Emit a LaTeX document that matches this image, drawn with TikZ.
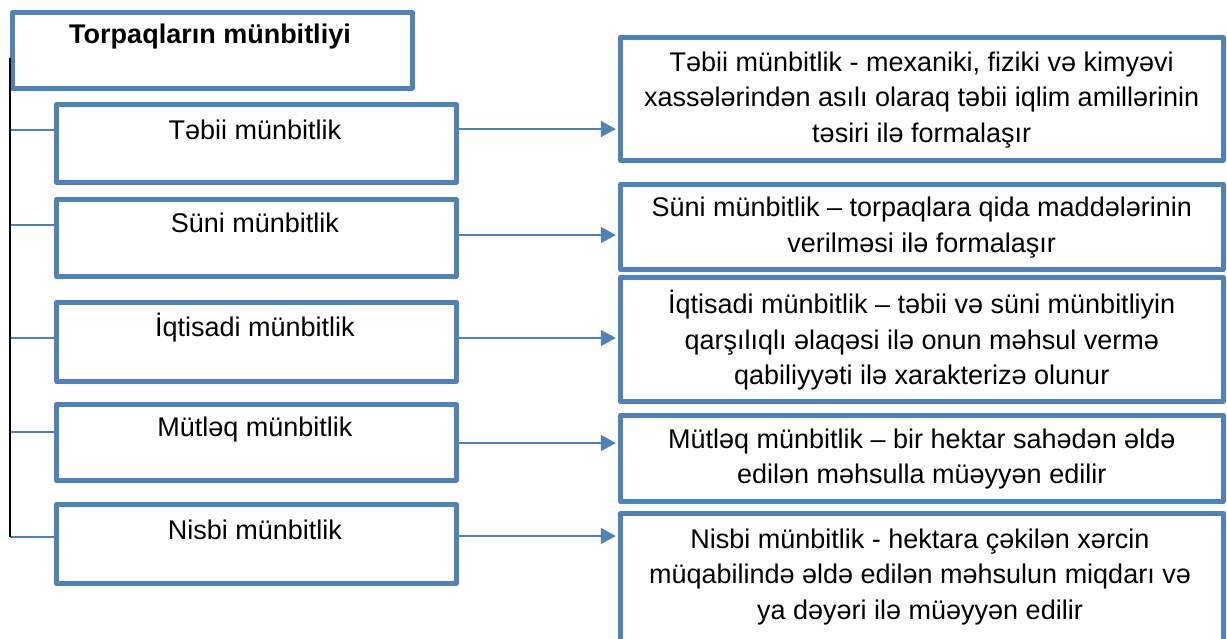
\documentclass[tikz,border=0pt]{standalone}
\usepackage{fontspec}
\setmainfont{Liberation Sans}
\usetikzlibrary{arrows.meta,calc}
\definecolor{boxblue}{HTML}{4F81BD}
\tikzset{
  box/.style={draw=boxblue, line width=4.5pt, line join=round, rectangle, inner sep=0pt, anchor=north west},
  lbl/.style={font=\fontsize{27}{35.5}\selectfont, inner sep=0pt, align=center, text=black},
  conn/.style={draw=boxblue, line width=1.6pt},
  spine/.style={draw=black, line width=2pt},
  arr/.style={draw=boxblue, line width=1.8pt, -{Triangle[length=15pt,width=16pt]}, shorten >=2.2pt}
}
\begin{document}
\begin{tikzpicture}[x=1pt,y=-1pt]
\path[use as bounding box, fill=white] (0,0) rectangle (1227,638);
\clip (0,0) rectangle (1227,638);
% title box
\node[box, minimum width=400pt, minimum height=76pt] (top) at (10,10) {};
\node[lbl, font=\fontsize{27}{35}\selectfont\bfseries] (toptxt) at (210,37) {Torpaqların münbitliyi};
% left boxes
\node[box, minimum width=400pt, minimum height=78pt] (b1) at (54,102) {};
\node[box, minimum width=400pt, minimum height=77pt] (b2) at (54,197) {};
\node[box, minimum width=400pt, minimum height=79pt] (b3) at (54,300) {};
\node[box, minimum width=400pt, minimum height=76pt] (b4) at (54,402) {};
\node[box, minimum width=400pt, minimum height=79pt] (b5) at (54,502) {};
\node[lbl] (t1) at (255,130) {Təbii münbitlik};
\node[lbl] (t2) at (255,223) {Süni münbitlik};
\node[lbl] (t3) at (255,328) {İqtisadi münbitlik};
\node[lbl] (t4) at (255,430) {Mütləq münbitlik};
\node[lbl] (t5) at (255,530) {Nisbi münbitlik};
% right boxes
\node[box, minimum width=603pt, minimum height=123pt] (r1) at (618,35) {};
\node[box, minimum width=603pt, minimum height=85pt] (r2) at (618,182) {};
\node[box, minimum width=603pt, minimum height=124pt] (r3) at (618,275) {};
\node[box, minimum width=603pt, minimum height=86pt] (r4) at (618,413) {};
\node[box, minimum width=603pt, minimum height=137pt] (r5) at (618,511) {};
\node[lbl] (d1) at ($(r1.center)+(0,1)$) {Təbii münbitlik - mexaniki, fiziki və kimyəvi\\xassələrindən asılı olaraq təbii iqlim amillərinin\\təsiri ilə formalaşır};
\node[lbl] (d2) at ($(r2.center)+(0,1)$) {Süni münbitlik – torpaqlara qida maddələrinin\\verilməsi ilə formalaşır};
\node[lbl] (d3) at ($(r3.center)+(0,1)$) {İqtisadi münbitlik – təbii və süni münbitliyin\\qarşılıqlı əlaqəsi ilə onun məhsul vermə\\qabiliyyəti ilə xarakterizə olunur};
\node[lbl] (d4) at ($(r4.center)+(0,1)$) {Mütləq münbitlik – bir hektar sahədən əldə\\edilən məhsulla müəyyən edilir};
\node[lbl] (d5) at (920,577) {Nisbi münbitlik - hektara çəkilən xərcin\\müqabilində əldə edilən məhsulun miqdarı və\\ya dəyəri ilə müəyyən edilir};
% spine
\coordinate (s0) at (10,58);
\coordinate (s1) at (10,130);
\coordinate (s2) at (10,225);
\coordinate (s3) at (10,338);
\coordinate (s4) at (10,432);
\coordinate (s5) at (10,537);
\draw[conn] (s1) -- (s1 -| b1.west);
\draw[conn] (s2) -- (s2 -| b2.west);
\draw[conn] (s3) -- (s3 -| b3.west);
\draw[conn] (s4) -- (s4 -| b4.west);
\draw[conn] (s5) -- (s5 -| b5.west);
\draw[spine] (s0) -- (s5);
% arrows
\coordinate (a1) at (454,129);
\coordinate (a2) at (454,235);
\coordinate (a3) at (454,338);
\coordinate (a4) at (454,443);
\coordinate (a5) at (454,536);
\draw[arr] (a1 -| b1.east) -- (a1 -| r1.west);
\draw[arr] (a2 -| b2.east) -- (a2 -| r2.west);
\draw[arr] (a3 -| b3.east) -- (a3 -| r3.west);
\draw[arr] (a4 -| b4.east) -- (a4 -| r4.west);
\draw[arr] (a5 -| b5.east) -- (a5 -| r5.west);
\end{tikzpicture}
\end{document}
